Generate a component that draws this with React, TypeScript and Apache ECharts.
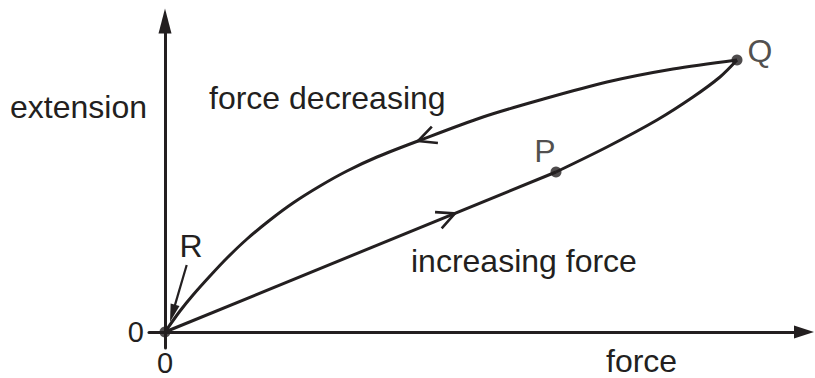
import React, { useEffect, useRef } from "react";
import * as echarts from "echarts";

// ---- data (force, extension in arbitrary units; 0,0 is the origin) ----
const increasingStraight: number[][] = [
  [0, 0],
  [39.1, 16.0],
];
const increasingCurve: number[][] = [
  [39.1, 16.0],
  [44.2, 18.5],
  [49.2, 21.2],
  [52.8, 23.5],
  [55.5, 25.5],
  [57.2, 27.2],
];
const decreasingCurve: number[][] = [
  [57.2, 27.2],
  [50.8, 26.3],
  [44.2, 25.0],
  [37.5, 23.2],
  [31.8, 21.5],
  [25.3, 19.1],
  [21.2, 17.5],
  [18.2, 16.1],
  [15.5, 14.6],
  [12.8, 12.9],
  [10.5, 11.2],
  [8.2, 9.3],
  [6.2, 7.4],
  [4.5, 5.6],
  [2.8, 3.7],
  [1.5, 2.1],
  [0, 0],
];
const pointNames = ["", "P", "Q"];
const pointValues: number[][] = [
  [0, 0],
  [39.1, 16.0],
  [57.2, 27.2],
];
// arrow tip (x, y) and a point behind it along the curve (x, y)
const directionArrows: number[][] = [
  [25.3, 19.1, 31.8, 21.5],
  [29.0, 11.86, 0, 0],
];
// pointer for R: start (x, y) -> tip (x, y)
const pointerR: number[][] = [[2.17, 6.7, 0.5, 1.0]];
const tickLabels = ["0"];
const tickValues = [0];
const axisX = { min: -1.6, max: 63.9 };
const axisY = { min: -1.6, max: 31.1 };

const INK = "#231f20";
const FONT_FAMILY = "'Liberation Sans', Arial, Helvetica, sans-serif";
const FONT = `32px ${FONT_FAMILY}`;

export default function App() {
  const ref = useRef<HTMLDivElement>(null);

  useEffect(() => {
    if (!ref.current) return;
    const chart = echarts.init(ref.current, undefined, { renderer: "svg" });

    const labelFormatter = (v: number) => {
      const i = tickValues.indexOf(v);
      return i >= 0 ? tickLabels[i] : "";
    };

    const textEl = (text: string, x: number, y: number) => ({
      type: "text",
      style: {
        text,
        x,
        y,
        font: FONT,
        fill: INK,
        lineHeight: 24,
        align: "left",
        verticalAlign: "middle",
        textAlign: "left",
        textVerticalAlign: "middle",
      },
    });

    const option: any = {
      animation: false,
      backgroundColor: "#ffffff",
      textStyle: { fontFamily: FONT_FAMILY },
      grid: {
        left: 149,
        right: 11,
        top: 21,
        bottom: 30,
        containLabel: false,
        outerBoundsMode: "none",
      },
      xAxis: {
        type: "value",
        min: axisX.min,
        max: axisX.max,
        splitLine: { show: false },
        axisTick: { show: false },
        axisLine: {
          show: true,
          onZero: true,
          symbol: ["none", "triangle"],
          symbolSize: [13, 20],
          lineStyle: { color: INK, width: 3 },
        },
        axisLabel: {
          show: true,
          customValues: tickValues,
          formatter: labelFormatter,
          color: INK,
          fontSize: 29,
          lineHeight: 20,
          fontFamily: FONT_FAMILY,
          margin: 5,
          showMinLabel: false,
          showMaxLabel: false,
        },
      },
      yAxis: {
        type: "value",
        min: axisY.min,
        max: axisY.max,
        splitLine: { show: false },
        axisTick: { show: false },
        axisLine: {
          show: true,
          onZero: true,
          symbol: ["none", "triangle"],
          symbolSize: [13, 25],
          lineStyle: { color: INK, width: 3 },
        },
        axisLabel: {
          show: true,
          customValues: tickValues,
          formatter: labelFormatter,
          color: INK,
          fontSize: 29,
          lineHeight: 20,
          fontFamily: FONT_FAMILY,
          margin: 5,
          showMinLabel: false,
          showMaxLabel: false,
        },
      },
      series: [
        {
          type: "line",
          data: increasingStraight,
          symbol: "none",
          silent: true,
          lineStyle: { color: INK, width: 3 },
        },
        {
          type: "line",
          data: increasingCurve,
          symbol: "none",
          smooth: 0.3,
          silent: true,
          lineStyle: { color: INK, width: 3 },
        },
        {
          type: "line",
          data: decreasingCurve,
          symbol: "none",
          smooth: 0.3,
          silent: true,
          lineStyle: { color: INK, width: 3 },
        },
        {
          type: "custom",
          silent: true,
          data: directionArrows,
          renderItem: (_p: any, api: any) => {
            const tip = api.coord([api.value(0), api.value(1)]);
            const back = api.coord([api.value(2), api.value(3)]);
            const dx = back[0] - tip[0];
            const dy = back[1] - tip[1];
            const len = Math.hypot(dx, dy) || 1;
            const ux = dx / len;
            const uy = dy / len;
            const a = (26 * Math.PI) / 180;
            const L = 20;
            const rot = (ang: number) => [
              ux * Math.cos(ang) - uy * Math.sin(ang),
              ux * Math.sin(ang) + uy * Math.cos(ang),
            ];
            const r1 = rot(a);
            const r2 = rot(-a);
            return {
              type: "polyline",
              shape: {
                points: [
                  [tip[0] + r1[0] * L, tip[1] + r1[1] * L],
                  tip,
                  [tip[0] + r2[0] * L, tip[1] + r2[1] * L],
                ],
              },
              style: { stroke: INK, lineWidth: 2.6, fill: "none" },
            };
          },
        },
        {
          type: "custom",
          silent: true,
          data: pointerR,
          renderItem: (_p: any, api: any) => {
            const s = api.coord([api.value(0), api.value(1)]);
            const e = api.coord([api.value(2), api.value(3)]);
            const dx = e[0] - s[0];
            const dy = e[1] - s[1];
            const len = Math.hypot(dx, dy) || 1;
            const ux = dx / len;
            const uy = dy / len;
            const H = 18;
            const W = 4.6;
            const bx = e[0] - ux * H;
            const by = e[1] - uy * H;
            return {
              type: "group",
              children: [
                {
                  type: "line",
                  shape: { x1: s[0], y1: s[1], x2: bx + ux * 2, y2: by + uy * 2 },
                  style: { stroke: INK, lineWidth: 2.2 },
                },
                {
                  type: "polygon",
                  shape: {
                    points: [
                      [e[0], e[1]],
                      [bx - uy * W, by + ux * W],
                      [bx + uy * W, by - ux * W],
                    ],
                  },
                  style: { fill: INK },
                },
                {
                  type: "text",
                  style: {
                    text: "R",
                    x: s[0] + 4.3,
                    y: s[1] - 19,
                    font: FONT,
                    fill: INK,
                    align: "center",
                    verticalAlign: "middle",
                    textAlign: "center",
                    textVerticalAlign: "middle",
                  },
                },
              ],
            };
          },
        },
        {
          type: "scatter",
          silent: true,
          symbol: "circle",
          symbolSize: 11,
          itemStyle: { color: INK },
          data: pointValues.map((v, i) => ({
            name: pointNames[i],
            value: v,
            label: {
              show: pointNames[i] !== "",
              formatter: "{b}",
              position: "inside",
              offset: i === 1 ? [-11, -21] : [23, -9],
              fontSize: 32,
              fontFamily: FONT_FAMILY,
              color: INK,
            },
          })),
        },
      ],
      graphic: [
        textEl("extension", 10, 107),
        textEl("force decreasing", 209, 98),
        textEl("increasing force", 411, 261),
        textEl("force", 606, 361),
      ],
    };

    chart.setOption(option);
    return () => chart.dispose();
  }, []);

  return (
    <div
      ref={ref}
      style={{ position: "absolute", left: 0, top: 0, width: 815, height: 378, background: "#fff" }}
    />
  );
}
